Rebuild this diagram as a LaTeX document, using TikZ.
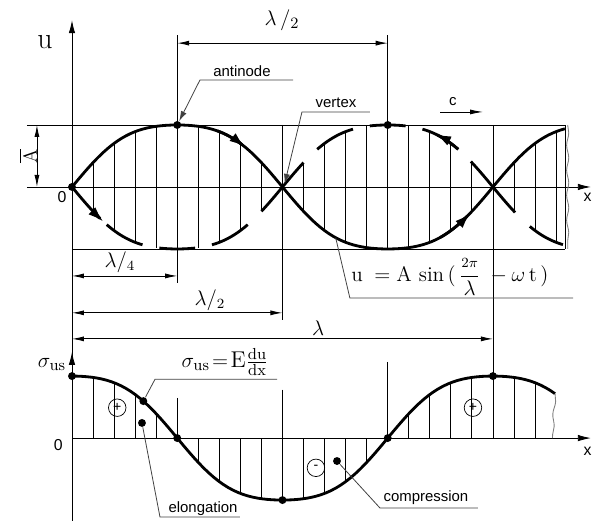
\documentclass[tikz,border=0pt]{standalone}
\usepackage{amsmath}
\usepackage{fontspec}
\newfontfamily\arialf{Liberation Sans}
\usetikzlibrary{arrows.meta,decorations.pathmorphing}
\tikzset{
  onda/.style={line width=1.6pt},
  eixo/.style={-{Latex[length=2.6mm,width=1.3mm]}},
  cota/.style={{Latex[length=2.4mm,width=1mm]}-{Latex[length=2.4mm,width=1mm]}},
  guia/.style={line width=0.45pt, black!75},
  seta/.style={-{Latex[length=3.2mm,width=2mm]}},
  rot/.style={font=\arialf\fontsize{8.5}{10}\selectfont, inner sep=0pt, anchor=base},
  lam/.style={font=\fontsize{12}{14}\selectfont, inner sep=1pt},
  pto/.style={circle, fill, inner sep=0pt, minimum size=4.5pt},
  sinal/.style={circle, draw, line width=0.4pt, inner sep=0pt, minimum size=3.5mm, font=\arialf\fontsize{8}{8}\selectfont},
  quebra/.style={gray, decorate, decoration={snake, amplitude=0.6pt, segment length=5mm}},
}

\begin{document}
\begin{tikzpicture}[xscale=2.105, yscale=1.24, line width=0.5pt]
  \def\desl#1{(sin(90*#1)*(1.3-0.3*sin(90*#1)*sin(90*#1)))}
  \def\tens#1{(-4.05+cos(90*#1)*(1.3-0.3*cos(90*#1)*cos(90*#1)))}
  \useasboundingbox (-0.684,-5.387) rectangle (4.941,3.016);
  % axes and frame lines
  \draw (-0.428,1) -- (4.684,1);
  \draw (0,-1) -- (4.684,-1);
  \draw[eixo] (-0.428,0) -- (4.93,0);
  \draw[eixo] (0,-5.387) -- (0,2.69);
  \draw[eixo] (0,-4.05) -- (0,-2.66);
  \draw[eixo] (0,-4.05) -- (4.93,-4.05);
  % hatching
  \foreach \k in {1,...,23}{
    \pgfmathsetmacro{\xx}{\k/5}
    \pgfmathsetmacro{\yy}{abs(\desl{\xx})}
    \draw (\xx,-\yy) -- (\xx,\yy);
  }
  \foreach \k in {1,...,22}{
    \pgfmathsetmacro{\xx}{\k/5}
    \draw (\xx,-4.05) -- (\xx,{\tens{\xx}});
  }
  % extension lines
  \draw (1,2.45) -- (1,-1.55) (2,1) -- (2,-2.15) (3,2.45) -- (3,-1)
        (4,1) -- (4,-3.05) (4.684,1) -- (4.684,-1);
  \draw (1,-3.40) -- (1,-4.05) (2,-3.27) -- (2,-5.05) (3,-2.82) -- (3,-4.05);
  \draw[quebra] (4.71,1) -- (4.71,-1);
  % displacement u
  \draw[onda, domain=0:4.684, samples=120] plot (\x,{\desl{\x}});
  \foreach \c/\w in {0.5/0.17,1/0.17,1.5/0.17,2/0.2,2.5/0.17,3/0.17,3.5/0.17,4/0.21}
    \draw[onda, domain=\c-\w:\c+\w, samples=12] plot (\x,{-\desl{\x}});
  \draw[onda, domain=4.35:4.665, samples=10] plot (\x,{-\desl{\x}});
  \draw[onda, seta, domain=0:0.3, samples=10] plot (\x,{-\desl{\x}});
  \draw[onda, seta, domain=3.67:3.45, samples=10] plot (\x,{-\desl{\x}});
  \draw[onda, seta, domain=1.38:1.645, samples=10] plot (\x,{\desl{\x}});
  \draw[onda, seta, domain=3.5:3.785, samples=10] plot (\x,{\desl{\x}});
  % stress
  \draw[onda, domain=0:4.59, samples=100] plot (\x,{\tens{\x}});
  \draw[quebra] (4.59,-3.335) -- (4.565,-4.05);
  \node[pto] (pO) at (0,0) {};
  \node[pto] (pAnti) at (1,1) {};
  \node[pto] (pAnti2) at (3,1) {};
  \foreach \n/\p in {s0/{(0,-3.05)}, s1/{(1,-4.05)}, s2/{(2,-5.05)}, s3/{(3,-4.05)}, s4/{(4,-3.05)}}
    \node[pto] (\n) at \p {};
  % labels of the axes
  \node[font=\fontsize{17}{20}\selectfont] (uLbl) at (-0.257,2.34) {u};
  \node[font=\arialf\fontsize{9}{10}\selectfont] (zero1) at (-0.095,-0.16) {0};
  \node[font=\arialf\fontsize{9}{10}\selectfont] (xLbl1) at (4.90,-0.16) {x};
  \node[font=\fontsize{13}{15}\selectfont] (sLbl) at (-0.19,-2.87) {$\sigma_{\mathrm{us}}$};
  \node[font=\arialf\fontsize{9}{10}\selectfont] (zero2) at (-0.13,-4.16) {0};
  \node[font=\arialf\fontsize{9}{10}\selectfont] (xLbl2) at (4.90,-4.27) {x};
  % dimensions
  \draw[cota] (-0.333,1) -- (-0.333,0);
  \node[rotate=90, font=\fontsize{11}{13}\selectfont] (aLbl) at (-0.418,0.5) {$\overline{\mathrm{A}}$};
  \draw[cota] (1,2.32) -- (3,2.32);
  \node[lam, font=\fontsize{13}{15}\selectfont] (lamTop) at (1.995,2.69) {$\lambda\,/_{2}$};
  \draw[cota] (0,-1.435) -- (1,-1.435);
  \node[lam] (lam4) at (0.456,-1.21) {$\lambda/_{4}$};
  \draw[cota] (0,-2.03) -- (2,-2.03);
  \node[lam] (lam2) at (1.31,-1.82) {$\lambda/_{2}$};
  \draw[cota] (0,-2.45) -- (4,-2.45);
  \node[lam] (lam1) at (2.34,-2.27) {$\lambda$};
  % c
  \node[rot] (tC) at (3.62,1.32) {c};
  \coordinate (c0) at (3.497,1.21);
  \coordinate (c1) at (3.905,1.21);
  \draw[-{Latex[length=2.6mm,width=1mm]}] (c0) -- (c1);
  % leaders
  \node[rot] (tAnti) at (1.615,1.774) {antinode};
  \coordinate (gA1) at (2.10,1.726);
  \coordinate (gA0) at (1.216,1.726);
  \draw[guia, -{Latex[length=2mm,width=1.2mm]}] (gA1) -- (gA0) -- (pAnti);
  \node[rot] (tVert) at (2.508,1.274) {vertex};
  \coordinate (gV1) at (2.83,1.21);
  \coordinate (gV0) at (2.185,1.21);
  \coordinate (pVert) at (2.02,0.05);
  \draw[guia, -{Latex[length=2mm,width=1.2mm]}] (gV1) -- (gV0) -- (pVert);
  \node[font=\fontsize{12}{14}\selectfont, inner sep=0pt] (eqU) at (3.59,-1.45)
    {$\mathrm{u}\;=\mathrm{A}\,\sin\,(\,\dfrac{\scriptstyle 2\pi}{\lambda}\;-\omega\,\mathrm{t}\,)$};
  \coordinate (gU1) at (4.76,-1.79);
  \coordinate (gU0) at (2.64,-1.79);
  \coordinate (pU) at (2.505,-0.817);
  \draw[guia] (gU1) -- (gU0) -- (pU);
  \node[font=\fontsize{13}{15}\selectfont, inner sep=0pt] (eqS) at (1.454,-2.82)
    {$\sigma_{\mathrm{us}}\!=\!\mathrm{E}\frac{\mathrm{du}}{\mathrm{dx}}$};
  \coordinate (gS1) at (1.948,-3.10);
  \coordinate (gS0) at (0.789,-3.10);
  \node[pto] (pS) at (0.678,-3.454) {};
  \draw[guia] (gS1) -- (gS0) -- (pS);
  \node[rot] (tElong) at (1.245,-5.258) {elongation};
  \coordinate (gE1) at (1.596,-5.323);
  \coordinate (gE0) at (0.836,-5.323);
  \node[pto] (pE) at (0.665,-3.806) {};
  \draw[guia] (gE1) -- (gE0) -- (pE);
  \node[rot] (tComp) at (3.363,-5.08) {compression};
  \coordinate (gC1) at (3.857,-5.177);
  \coordinate (gC0) at (2.926,-5.177);
  \node[pto] (pC) at (2.518,-4.42) {};
  \draw[guia] (gC1) -- (gC0) -- (pC);
  % signs
  \node[sinal] (mais1) at (0.43,-3.56) {+};
  \node[sinal] (mais2) at (3.81,-3.56) {+};
  \node[sinal] (menos) at (2.318,-4.53) {-};
\end{tikzpicture}
\end{document}
